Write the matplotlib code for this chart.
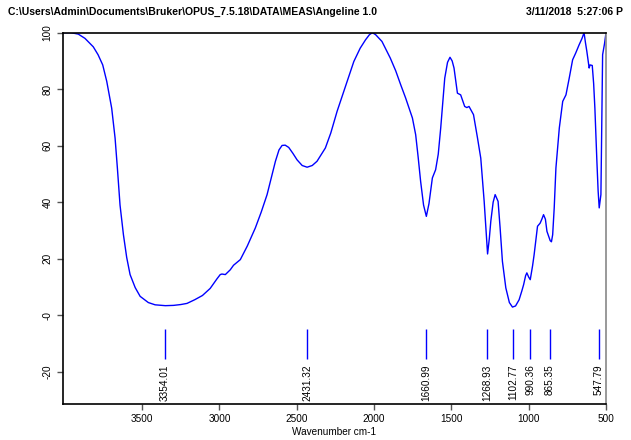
import numpy as np
import matplotlib.pyplot as plt

plt.rcParams['font.family'] = ['Liberation Sans', 'DejaVu Sans']

# spectrum (wavenumber cm-1, transmittance %)
wavenumber = [4010, 3960, 3913, 3870, 3816, 3785, 3755, 3729, 3697, 3675, 3660, 3643,
              3621, 3600, 3578, 3545, 3513, 3460, 3416, 3350, 3297, 3250, 3210, 3160, 3110,
              3060, 3016, 2995, 2984, 2962, 2930, 2909, 2865, 2820, 2768, 2730,
              2692, 2638, 2615, 2595, 2575, 2552, 2525, 2498, 2465, 2433, 2400,
              2369, 2315, 2280, 2239, 2185, 2131, 2090, 2055, 2030, 2011, 1990,
              1949, 1895, 1860, 1828, 1796, 1752, 1731, 1715, 1699, 1680, 1662,
              1645, 1623, 1602, 1585, 1569, 1543, 1525, 1509, 1495, 1483, 1461,
              1450, 1440, 1414, 1400, 1386, 1357, 1331, 1310, 1288, 1276, 1266,
              1255, 1245, 1230, 1217, 1198, 1185, 1170, 1148, 1125, 1105, 1085,
              1062, 1045, 1033, 1020, 1012, 1000, 990, 975, 965, 943, 926, 915,
              904, 892, 882, 861, 853, 845, 835, 824, 802, 780, 759, 738, 716,
              696, 674, 655, 642, 633, 624, 609, 603, 589, 580, 572, 559, 551,
              544, 538, 533, 527, 522, 510, 500]
transmittance = [100, 100, 99.5, 98, 95, 92.2, 88.6, 82.8, 73.3, 62.7, 52, 39,
                 28.5, 20.5, 14.4, 9.8, 6.7, 4.5, 3.7, 3.4, 3.5, 3.8, 4.2, 5.5, 7.0,
                 9.5, 12.9, 14.4, 14.6, 14.4, 16.1, 17.7, 19.7, 24.5, 30.9, 36.5,
                 42.7, 54.5, 58.5, 60.1, 60.2, 59.4, 57.3, 55, 53.0, 52.4, 53.0,
                 54.5, 59.2, 64.5, 72.2, 81.0, 89.8, 94.5, 97.5, 99.3, 100, 99.3,
                 96.9, 91, 86.5, 81.6, 76.9, 69.8, 63.9, 56.0, 47.4, 39.0, 35,
                 39.5, 48.6, 51.5, 57.0, 66.3, 83.9, 89.5, 91.3, 90.0, 87.5, 78.6,
                 78.3, 78, 73.9, 73.5, 73.9, 71, 62.7, 55.6, 40.3, 30.0, 21.7,
                 27.0, 33.3, 40.0, 42.7, 40.3, 31.0, 19.1, 9.7, 4.5, 2.9, 3.3,
                 5.5, 8.5, 10.8, 14.0, 15, 13.5, 12.6, 17.5, 21.4, 31.5, 32.6, 34.0,
                 35.6, 34.0, 29.7, 26.4, 26.0, 28.5, 38.0, 52.1, 66.3, 75.7, 78, 83.9, 90.4,
                 92.8, 95.7, 98.0, 100, 96.5, 93.4, 87.5, 88.6, 88.4, 82.0, 73.3, 54.5, 44.0,
                 38, 40.5, 42.7, 70.0, 92.2, 96.0, 100]

# picked peaks
peaks = [3354.01, 2431.32, 1660.99, 1268.93, 1102.77, 990.36, 865.35, 547.79]
peak_labels = ['3354.01', '2431.32', '1660.99', '1268.93', '1102.77', '990.36', '865.35', '547.79']

yticks = [-20, 0, 20, 40, 60, 80, 100]
ytick_labels = ['-20', '-0', '20', '40', '60', '80', '100']
xticks = [3500, 3000, 2500, 2000, 1500, 1000, 500]

fig = plt.figure(figsize=(6.31, 4.40), dpi=100)
ax = fig.add_axes([0.0998, 0.0818, 0.8606, 0.8439])

ax.plot(wavenumber, transmittance, color='#0000ff', lw=1)

# peak markers
ax.vlines(peaks, -15.6, -4.8, color='#0000ff', lw=1)
for p, lab in zip(peaks, peak_labels):
    ax.text(p, -17.4, lab, rotation=90, ha='center', va='top', fontsize=7.2)

ax.set_xlim(4012, 500)
ax.set_ylim(-31.4, 100)
ax.set_xticks(xticks)
ax.set_xticklabels([str(t) for t in xticks], fontsize=7.2)
ax.set_yticks(yticks)
ax.set_yticklabels(ytick_labels, fontsize=7.2, rotation=90, va='center')
ax.tick_params(direction='out', length=4, width=1, colors='#555555', labelcolor='black')
ax.set_xlabel('Wavenumber cm-1', fontsize=7.2, labelpad=2)

for s in ax.spines.values():
    s.set_linewidth(1.2)
ax.spines['right'].set_color('#888888')

fig.text(0.013, 0.972, r'C:\Users\Admin\Documents\Bruker\OPUS_7.5.18\DATA\MEAS\Angeline 1.0',
         fontsize=7.5, fontweight='bold', va='center', ha='left')
fig.text(0.833, 0.972, '3/11/2018  5:27:06 P', fontsize=7.5, fontweight='bold',
         va='center', ha='left')

fig.savefig('out.png', dpi=100)
